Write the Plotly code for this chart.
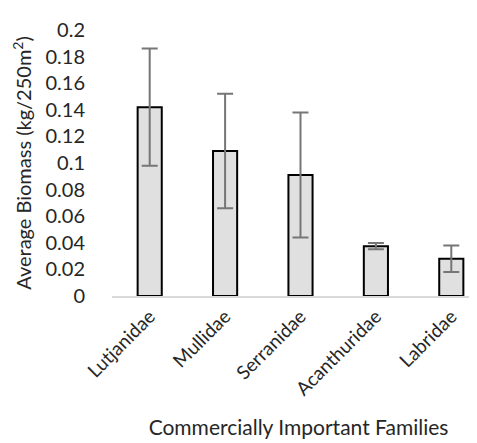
import plotly.graph_objects as go

families = ["Lutjanidae", "Mullidae", "Serranidae", "Acanthuridae", "Labridae"]
biomass = [0.142, 0.109, 0.091, 0.0375, 0.028]
err = [0.044, 0.043, 0.047, 0.0023, 0.010]
y_ticks = [0, 0.02, 0.04, 0.06, 0.08, 0.1, 0.12, 0.14, 0.16, 0.18, 0.2]
y_tick_labels = ["0", "0.02", "0.04", "0.06", "0.08", "0.1", "0.12", "0.14", "0.16", "0.18", "0.2"]

FONT = "Lato"
TXT = "#262626"

fig = go.Figure(go.Bar(
    x=families, y=biomass,
    width=0.32,
    marker=dict(color="#e0e0e0", line=dict(color="black", width=2)),
    error_y=dict(type="data", array=err, visible=True, color="#767676", thickness=2, width=8),
))

fig.update_layout(
    width=477, height=443,
    margin=dict(l=104, r=0, t=22, b=155),
    plot_bgcolor="white", paper_bgcolor="white",
    showlegend=False,
    font=dict(family=FONT, color=TXT),
    xaxis=dict(
        range=[-0.5, 4.447],
        tickangle=-45,
        tickfont=dict(size=19, family=FONT, color=TXT),
        showline=True, linecolor="#d9d9d9", linewidth=2,
        showgrid=False, ticks="",
        title=dict(text="Commercially Important Families", font=dict(size=21, family=FONT, color=TXT), standoff=22),
    ),
    yaxis=dict(
        range=[0, 0.2],
        tickvals=y_ticks, ticktext=y_tick_labels,
        tickfont=dict(size=20, family=FONT, color=TXT),
        showgrid=False, zeroline=False, showline=False,
        ticks="", ticklabelstandoff=26,
        title=dict(text="Average Biomass (kg/250m<sup>2</sup>)", font=dict(size=20, family=FONT, color=TXT), standoff=8),
    ),
)

fig.write_html("out.html")
